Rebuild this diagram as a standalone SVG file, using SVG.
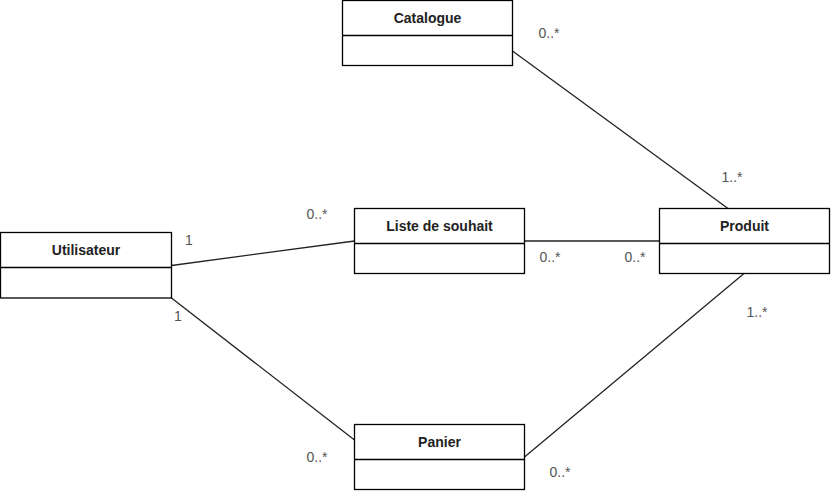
<svg xmlns="http://www.w3.org/2000/svg" width="831" height="491" viewBox="0 0 831 491">
<style>
.box{fill:#fff;stroke:#000;stroke-width:1.3}
.sep{stroke:#000;stroke-width:1.3}
.name{font-family:"Liberation Sans",Arial,sans-serif;font-size:14px;font-weight:bold;fill:#222;text-anchor:middle}
.mult{font-family:"Liberation Sans",Arial,sans-serif;font-size:14px;fill:#555}
.conn line{stroke:#222;stroke-width:1.3}
</style>
<rect width="831" height="491" fill="#fff"/>
<g id="connectors" class="conn">
<line x1="512.5" y1="51" x2="728" y2="208.5"/>
<line x1="171.5" y1="265.5" x2="354.5" y2="241"/>
<line x1="524.5" y1="241" x2="659.5" y2="241"/>
<line x1="171.5" y1="298" x2="354.5" y2="440"/>
<line x1="744" y1="273.5" x2="524.5" y2="457"/>
</g>
<g id="catalogue">
<rect class="box" x="342.5" y="0.5" width="170" height="65"/>
<line class="sep" x1="342.5" y1="35.5" x2="512.5" y2="35.5"/>
<text class="name" x="427.5" y="23">Catalogue</text>
</g>
<g id="utilisateur">
<rect class="box" x="0.5" y="232.5" width="171" height="65.5"/>
<line class="sep" x1="0.5" y1="267.5" x2="171.5" y2="267.5"/>
<text class="name" x="86" y="255">Utilisateur</text>
</g>
<g id="liste">
<rect class="box" x="354.5" y="208.5" width="170" height="65"/>
<line class="sep" x1="354.5" y1="243.5" x2="524.5" y2="243.5"/>
<text class="name" x="439.5" y="231">Liste de souhait</text>
</g>
<g id="produit">
<rect class="box" x="659.5" y="208.5" width="170" height="65"/>
<line class="sep" x1="659.5" y1="243.5" x2="829.5" y2="243.5"/>
<text class="name" x="744.5" y="231">Produit</text>
</g>
<g id="panier">
<rect class="box" x="354.5" y="424.5" width="170" height="65"/>
<line class="sep" x1="354.5" y1="459.5" x2="524.5" y2="459.5"/>
<text class="name" x="439.5" y="447">Panier</text>
</g>
<g id="labels">
<text class="mult" x="538.5" y="37.5">0..*</text>
<text class="mult" x="721.5" y="182">1..*</text>
<text class="mult" x="306.5" y="219">0..*</text>
<text class="mult" x="185" y="245">1</text>
<text class="mult" x="174" y="321">1</text>
<text class="mult" x="539.5" y="261.5">0..*</text>
<text class="mult" x="624.5" y="261.5">0..*</text>
<text class="mult" x="746.5" y="316.5">1..*</text>
<text class="mult" x="306.5" y="461.5">0..*</text>
<text class="mult" x="549.5" y="476.5">0..*</text>
</g>
</svg>
